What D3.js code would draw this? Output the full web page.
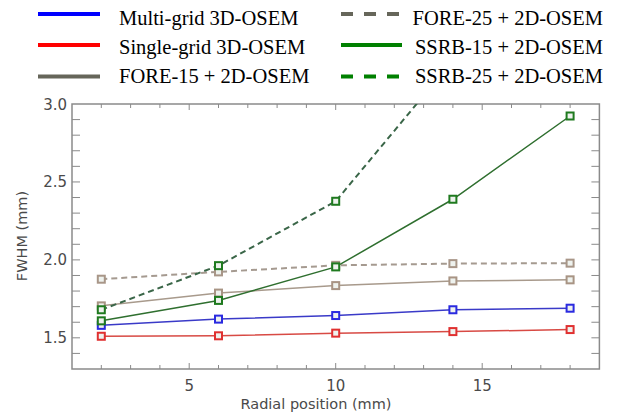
<!DOCTYPE html>
<html lang="en">
<head>
  <meta charset="UTF-8" />
  <title>FWHM vs radial position</title>
  <script src="https://d3js.org/d3.v7.min.js"></script>
  <style>
    body { margin:0; padding:0; background:#fff; }
    svg { display:block; }
    .tick-label { font-family:"DejaVu Sans", sans-serif; font-size:15px; fill:#4a4a4a; }
    .axis-title { font-family:"DejaVu Sans", sans-serif; font-size:14.5px; fill:#4a4a4a; }
    .legend-text { font-family:"Liberation Serif", "Times New Roman", serif; font-size:20.5px; fill:#000; }
  </style>
</head>
<body>
<svg width="629" height="415"></svg>
<script>
  // radial positions (mm)
  const positions = [2, 6, 10, 14, 18];

  // FWHM (mm) per method
  const multiGrid  = [1.58, 1.62, 1.643, 1.68, 1.69];
  const singleGrid = [1.51, 1.513, 1.53, 1.54, 1.553];
  const fore15     = [1.705, 1.787, 1.835, 1.865, 1.872];
  const fore25     = [1.876, 1.923, 1.965, 1.976, 1.979];
  const ssrb15     = [1.609, 1.74, 1.955, 2.389, 2.923];
  const ssrb25     = [1.68, 1.963, 2.376, 3.28];

  const legendNames = [
    "Multi-grid 3D-OSEM", "Single-grid 3D-OSEM", "FORE-15 + 2D-OSEM",
    "FORE-25 + 2D-OSEM", "SSRB-15 + 2D-OSEM", "SSRB-25 + 2D-OSEM"
  ];

  const xTicks = [5, 10, 15];
  const yTicks = [1.5, 2.0, 2.5, 3.0];

  const series = [
    { vals: fore25,     line:"#a59a90", mark:"#a89688", dash:"6,4", legendColor:"#66665a", legendDash:"12,11" },
    { vals: fore15,     line:"#a89a8c", mark:"#a89484", dash:null,  legendColor:"#66665a", legendDash:null },
    { vals: singleGrid, line:"#d84a44", mark:"#e03030", dash:null,  legendColor:"#ff0000", legendDash:null },
    { vals: multiGrid,  line:"#3a3ac8", mark:"#2a2ae0", dash:null,  legendColor:"#0000ff", legendDash:null },
    { vals: ssrb15,     line:"#2f6f2f", mark:"#1f7a1f", dash:null,  legendColor:"#008000", legendDash:null },
    { vals: ssrb25,     line:"#3a6648", mark:"#1f7a1f", dash:"6,4", legendColor:"#008000", legendDash:"12,11" }
  ];
  // legend order -> series index
  const legendOrder = [3, 2, 1, 0, 4, 5];

  const svg = d3.select("svg");
  const L = 72, R = 599.4, T = 104, B = 369;

  const x = d3.scaleLinear().domain([1, 19]).range([L, R]);
  const y = d3.scaleLinear().domain([1.3, 3.0]).range([B, T]);

  svg.append("clipPath").attr("id", "plotclip")
    .append("rect").attr("x", L).attr("y", T).attr("width", R - L).attr("height", B - T);

  // frame
  svg.append("rect")
    .attr("x", L).attr("y", T).attr("width", R - L).attr("height", B - T)
    .attr("fill", "none").attr("stroke", "#8a8a8a").attr("stroke-width", 1.5);

  const tickG = svg.append("g").attr("stroke", "#8a8a8a").attr("stroke-width", 1);

  // x ticks (bottom and top), every 1 mm, inward
  d3.range(2, 19).forEach(v => {
    const len = xTicks.includes(v) ? 6 : 4;
    tickG.append("line").attr("x1", x(v)).attr("x2", x(v)).attr("y1", B).attr("y2", B - len);
    tickG.append("line").attr("x1", x(v)).attr("x2", x(v)).attr("y1", T).attr("y2", T + len);
  });
  // y ticks (left and right), every 0.1 mm, inward
  d3.range(14, 30).forEach(i => {
    const v = i / 10;
    tickG.append("line").attr("x1", L).attr("x2", L + 8).attr("y1", y(v)).attr("y2", y(v));
    tickG.append("line").attr("x1", R).attr("x2", R - 8).attr("y1", y(v)).attr("y2", y(v));
  });

  svg.selectAll(".xl").data(xTicks).enter().append("text")
    .attr("class", "tick-label")
    .attr("x", d => x(d)).attr("y", 391)
    .attr("text-anchor", "middle")
    .text(d => d);

  svg.selectAll(".yl").data(yTicks).enter().append("text")
    .attr("class", "tick-label")
    .attr("x", 67).attr("y", d => y(d) + 5.5)
    .attr("text-anchor", "end")
    .text(d => d.toFixed(1));

  svg.append("text").attr("class", "axis-title")
    .attr("x", 316).attr("y", 409)
    .attr("text-anchor", "middle")
    .text("Radial position (mm)");

  svg.append("text").attr("class", "axis-title")
    .attr("transform", "translate(27,236) rotate(-90)")
    .attr("text-anchor", "middle")
    .text("FWHM (mm)");

  // lines and markers
  const plot = svg.append("g").attr("clip-path", "url(#plotclip)");
  const line = d3.line().x(d => x(d[0])).y(d => y(d[1]));

  series.forEach(s => {
    const pts = s.vals.map((v, i) => [positions[i], v]);
    plot.append("path")
      .attr("d", line(pts))
      .attr("fill", "none")
      .attr("stroke", s.line)
      .attr("stroke-width", s.dash ? 2 : 1.5)
      .attr("stroke-dasharray", s.dash);
  });
  series.forEach(s => {
    const pts = s.vals.map((v, i) => [positions[i], v]).filter(p => p[1] <= 3.0);
    plot.selectAll(null).data(pts).enter().append("rect")
      .attr("x", d => x(d[0]) - 3.5).attr("y", d => y(d[1]) - 3.5)
      .attr("width", 7).attr("height", 7)
      .attr("fill", "#eef2ee")
      .attr("stroke", s.mark).attr("stroke-width", 2);
  });

  // legend
  const lg = svg.append("g");
  legendOrder.forEach((si, k) => {
    const s = series[si];
    const col = k < 3 ? 0 : 1;
    const row = k % 3;
    const ly = [14, 45, 76.5][row];
    const tb = [24.5, 53.5, 82.5][row];
    const x1 = col === 0 ? 38 : 341, x2 = col === 0 ? 100 : 402;
    lg.append("line")
      .attr("x1", x1).attr("x2", x2).attr("y1", ly).attr("y2", ly)
      .attr("stroke", s.legendColor).attr("stroke-width", 4)
      .attr("stroke-dasharray", s.legendDash);
    lg.append("text").attr("class", "legend-text")
      .attr("x", col === 0 ? 119 : 603).attr("y", tb)
      .attr("text-anchor", col === 0 ? "start" : "end")
      .text(legendNames[k]);
  });
</script>
</body>
</html>
